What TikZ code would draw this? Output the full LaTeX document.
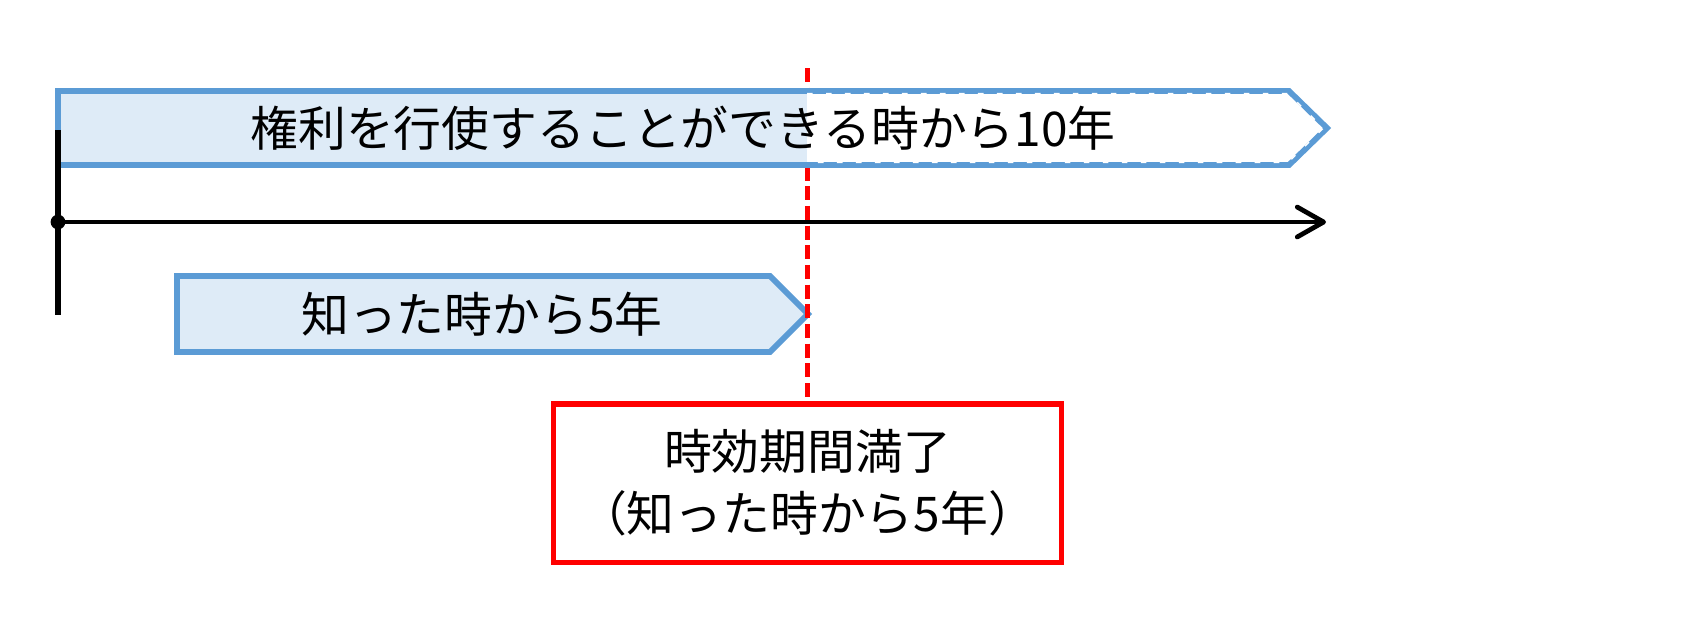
\documentclass[tikz,border=0pt]{standalone}
\usepackage{fontspec}
\setmainfont{Noto Sans CJK JP}
\usetikzlibrary{arrows.meta}
\definecolor{arrowblue}{RGB}{91,155,213}
\definecolor{lightblue}{RGB}{222,235,247}

\begin{document}
\begin{tikzpicture}[x=0.01cm, y=-0.01cm,
	shaft/.style={draw=arrowblue, line width=1.65pt, line join=miter},
	jptext/.style={font=\fontsize{13.6pt}{17.6pt}\selectfont, inner sep=0pt},
	expirybox/.style={draw=red, line width=1.45pt, minimum width=5.07cm, minimum height=1.58cm, align=center, font=\fontsize{13.6pt}{17.6pt}\selectfont}]
	\useasboundingbox (0,0) rectangle (1700,635);
	
	% Draw the time axis
	\coordinate (origin) at (58,222);
	\coordinate (axisend) at (1326,222);
	\draw[line width=1.35pt, -{Straight Barb[length=7.5pt,width=8.5pt,round]}] (origin) -- (axisend);
	
	% Draw the 5 year box
	\draw[shaft, fill=lightblue] (177,276) -- (770,276) -- (808,314) -- (770,352) -- (177,352) -- cycle;
	\node[jptext] (fiveyr) at (482,314) {知った時から5年};
	
	% Draw the expiry line and box
	\node[expirybox] (expiry) at (807.5,483) {時効期間満了\\（知った時から5年）};
	\coordinate (lineup) at (807.5,68);
	\draw[red, line width=1.4pt, dash pattern=on 4pt off 1.6pt] (lineup) -- (expiry.north);
	
	% Draw the 10 year box
	\fill[lightblue] (58,91) rectangle (807,165);
	\fill[white] (807,91) -- (1289,91) -- (1327,128) -- (1289,165) -- (807,165) -- cycle;
	\draw[shaft] (58,91) -- (1289,91) -- (1327,128) -- (1289,165) -- (58,165) -- cycle;
	\draw[white, line width=0.4pt, dash pattern=on 1.6pt off 3.8pt] (807,93.5) -- (1288,93.5) -- (1323.5,128) -- (1288,162.5) -- (807,162.5);
	\node[jptext] (tenyr) at (683,128) {権利を行使することができる時から10年};
	
	% Draw the start marker
	\draw[line width=1.45pt] (58,130) -- (58,315);
	\fill (origin) circle (2.1pt);
	
\end{tikzpicture}
\end{document}
